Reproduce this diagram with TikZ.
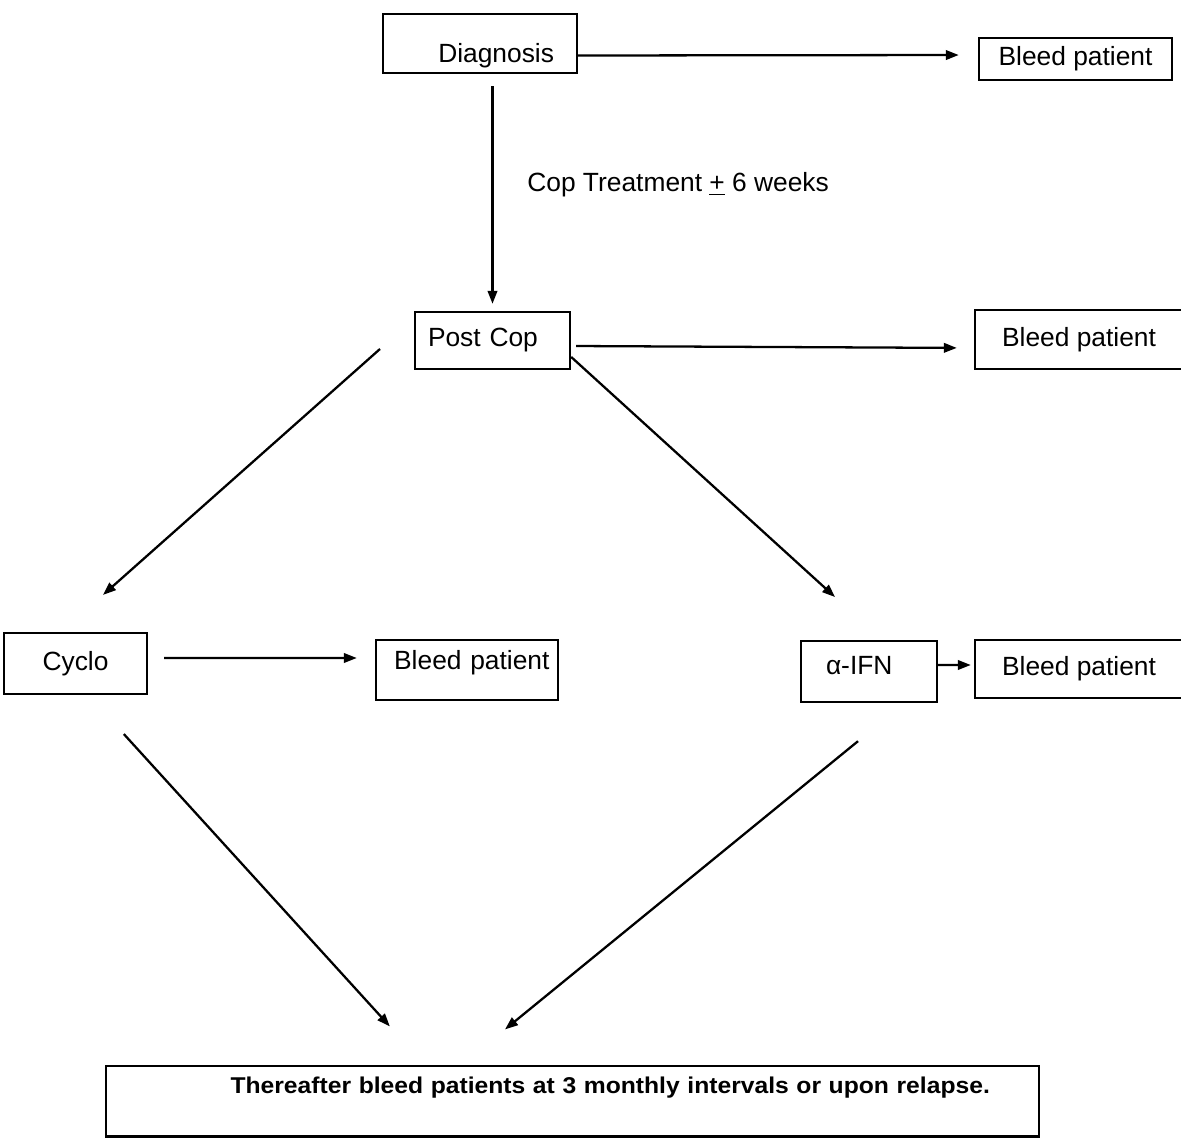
\documentclass[tikz,border=0pt]{standalone}
\usepackage{fontspec}
\setmainfont{Liberation Sans}
\newfontfamily\widefont[FakeStretch=1.08]{Liberation Sans}
\usetikzlibrary{arrows.meta}
\tikzset{
  box/.style={draw, line width=1.4pt, inner sep=0pt, font=\fontsize{15}{18}\selectfont},
  arr/.style={line width=1.3pt, -{Triangle[length=0.26cm,width=0.19cm]}}
}
\begin{document}
\begin{tikzpicture}[x=0.02cm, y=-0.02cm]
\useasboundingbox (0,0) rectangle (1181,1145);
\node[box, minimum width=3.88cm, text width=2.96cm, inner xsep=0.46cm, align=right, text height=0.98cm, text depth=0.2cm] (diag) at (480,43.5) {Diagnosis};
\node[box, minimum width=3.1cm, minimum height=1.14cm, text width=2.58cm, align=left] (postcop) at (492.5,340.5) {Post Cop};
\node[box, minimum width=2.86cm, minimum height=1.22cm] (cyclo) at (75.5,663.5) {Cyclo};
\node[box, minimum width=2.72cm, text width=1.72cm, inner xsep=0.5cm, align=left, text height=0.68cm, text depth=0.54cm] (ifn) at (869,671.5) {α-IFN};
% the four bleed boxes
\foreach \n/\x/\y/\w/\h in {1/1075.5/59/3.86/0.84, 2/1079/339.5/4.16/1.18, 4/1079/669/4.16/1.16} {
  \node[box, minimum width=\w cm, minimum height=\h cm] (bleed\n) at (\x,\y) {Bleed patient};
}
\node[box, minimum width=3.64cm, text width=3.3cm, inner xsep=0.06cm, align=right, text height=0.6cm, text depth=0.6cm] (bleed3) at (467,670) {Bleed patient};
\node[box, minimum width=18.66cm, text width=16.7cm, align=right, inner xsep=0.98cm, inner ysep=0.22cm, text depth=0.64cm, font=\widefont\bfseries\fontsize{13}{15}\selectfont] (final) at (572.5,1101) {Thereafter bleed patients at 3 monthly intervals or upon relapse.};
\node[anchor=west, inner sep=0pt, font=\fontsize{15}{18}\selectfont] (treat) at (527,185) {Cop Treatment \underline{+} 6 weeks};
\coordinate (split) at (380,349);
% arrows
\draw[arr, shorten >=0.38cm] ([yshift=-0.24cm]diag.east) -- ([yshift=0.08cm]bleed1.west);
\draw[arr, shorten <=0.24cm, shorten >=0.14cm] (postcop.north |- diag.south) -- (postcop.north);
\draw[arr, shorten <=0.1cm, shorten >=0.34cm] ([yshift=-0.11cm]postcop.east) -- ([yshift=-0.17cm]bleed2.west);
\draw[arr, shorten >=1.11cm] (split) -- ([xshift=-0.28cm]cyclo.north);
\draw[arr, shorten >=1.27cm] ([yshift=-0.33cm]postcop.east) -- ([xshift=0.26cm]ifn.north);
\draw[arr, shorten <=0.32cm, shorten >=0.36cm] ([yshift=0.11cm]cyclo.east) -- ([yshift=0.24cm]bleed3.west);
\draw[arr, shorten >=0.06cm] ([yshift=0.13cm]ifn.east) -- ([yshift=0.08cm]bleed4.west);
\draw[arr, shorten <=1.05cm, shorten >=1.03cm] ([xshift=0.26cm]cyclo.south) -- ([xshift=-2.96cm]final.north);
\draw[arr, shorten <=1.2cm, shorten >=1.11cm] ([xshift=0.71cm]ifn.south) -- ([xshift=-2.21cm]final.north);
\end{tikzpicture}
\end{document}
